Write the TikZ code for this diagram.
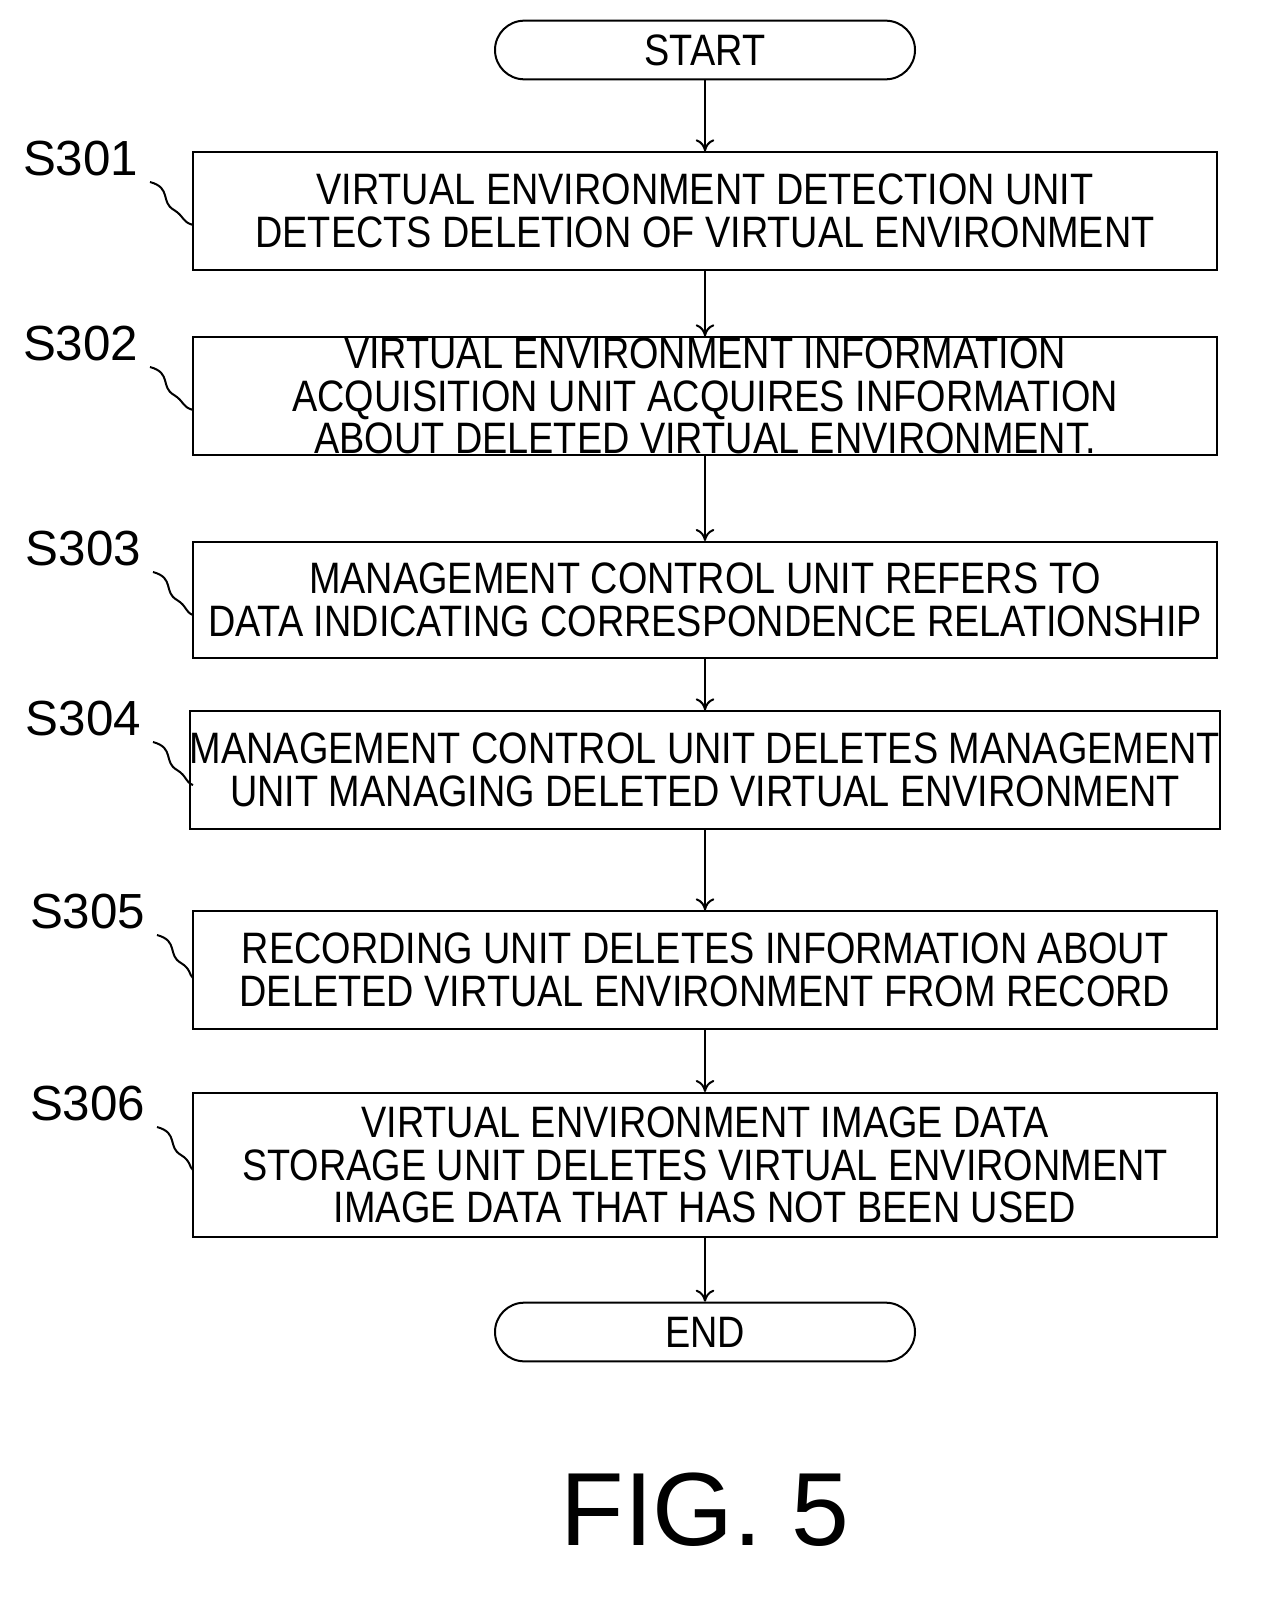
\documentclass[tikz,border=0pt]{standalone}
\usepackage{fontspec}
\setmainfont{Liberation Sans}
\newfontfamily\narrowfont[FakeStretch=0.86]{Liberation Sans}
\usetikzlibrary{arrows.meta}
\tikzset{every picture/.style={line width=1.5pt}}
\tikzset{
  stepbox/.style={draw,minimum width=768pt,align=center,inner sep=0pt,font=\narrowfont\fontsize{33}{32}\selectfont},
  term/.style={draw,rounded corners=22pt,minimum width=315pt,minimum height=44pt,font=\narrowfont\fontsize{33}{33}\selectfont},
  flow/.style={-{To[length=9pt,width=14pt]}},
  steplabel/.style={anchor=north west,inner sep=0pt,font=\fontsize{37}{37}\selectfont}
}
\begin{document}
\begin{tikzpicture}[x=0.75pt,y=0.75pt,yscale=-1,xscale=1]
  \useasboundingbox (0,0) rectangle (1264,1601);

  % Terminals
  \node[term] (start) at (705,50) {START};
  \node[term] (end) at (705,1332) {END};

  % Steps
  \node[stepbox,minimum height=88pt] (s1) at (705,211) {VIRTUAL ENVIRONMENT DETECTION UNIT\\DETECTS DELETION OF VIRTUAL ENVIRONMENT};
  \node[stepbox,minimum height=88pt] (s2) at (705,396) {VIRTUAL ENVIRONMENT INFORMATION\\ACQUISITION UNIT ACQUIRES INFORMATION\\ABOUT DELETED VIRTUAL ENVIRONMENT.};
  \node[stepbox,minimum height=87pt] (s3) at (705,600) {MANAGEMENT CONTROL UNIT REFERS TO\\DATA INDICATING CORRESPONDENCE RELATIONSHIP};
  \node[stepbox,minimum height=88pt] (s4) at (705,770) {MANAGEMENT CONTROL UNIT DELETES MANAGEMENT\\UNIT MANAGING DELETED VIRTUAL ENVIRONMENT};
  \node[stepbox,minimum height=88pt] (s5) at (705,970) {RECORDING UNIT DELETES INFORMATION ABOUT\\DELETED VIRTUAL ENVIRONMENT FROM RECORD};
  \node[stepbox,minimum height=108pt] (s6) at (705,1165) {VIRTUAL ENVIRONMENT IMAGE DATA\\STORAGE UNIT DELETES VIRTUAL ENVIRONMENT\\IMAGE DATA THAT HAS NOT BEEN USED};

  % Flow
  \draw[flow] (start) -- (s1);
  \draw[flow] (s1) -- (s2);
  \draw[flow] (s2) -- (s3);
  \draw[flow] (s3) -- (s4);
  \draw[flow] (s4) -- (s5);
  \draw[flow] (s5) -- (s6);
  \draw[flow] (s6) -- (end);

  % Step labels
  \foreach \lab/\y/\x/\bx in {S301/140/22/s1,S302/325/22/s2,S303/530/25/s3,S304/700/25/s4,S305/893/29/s5,S306/1085/29/s6}{
    \node[steplabel] (l\bx) at (\x,\y) {\lab};
    \draw (\x+128,\y+42) .. controls (\x+150,\y+48) and (\x+138,\y+62) .. (\x+152,\y+70) .. controls (\x+162,\y+76) and (\x+160,\y+82) .. (193,\y+85);
  }

  % Caption
  \node[font=\fontsize{78}{78}\selectfont] (fig) at (705,1510) {FIG. 5};
\end{tikzpicture}
\end{document}
